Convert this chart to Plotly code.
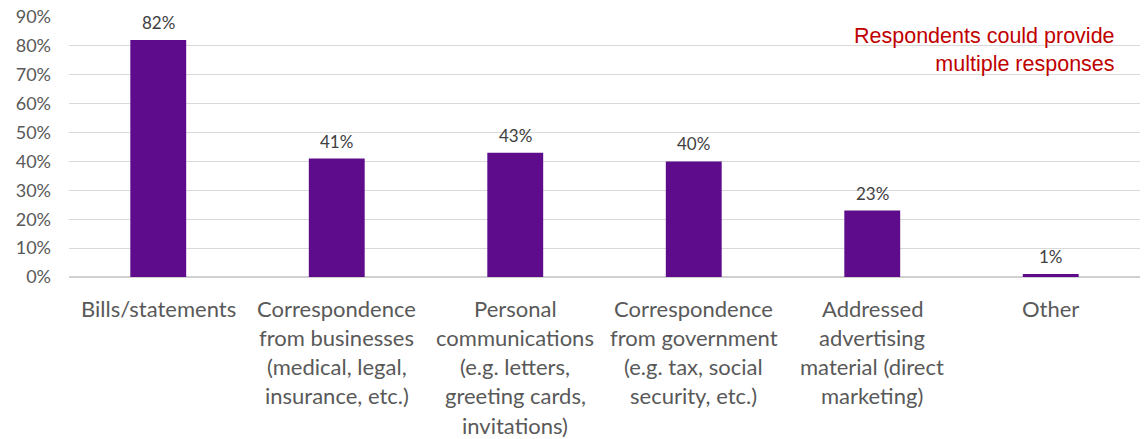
import plotly.graph_objects as go

# Mail types received and share of respondents
categories = [
    "Bills/statements",
    "Correspondence from businesses",
    "Personal communications",
    "Correspondence from government",
    "Addressed advertising material",
    "Other",
]
label_lines = [
    ["Bills/statements"],
    ["Correspondence", "from businesses", "(medical, legal,", "insurance, etc.)"],
    ["Personal", "communications", "(e.g. letters,", "greeting cards,", "invitations)"],
    ["Correspondence", "from government", "(e.g. tax, social", "security, etc.)"],
    ["Addressed", "advertising", "material (direct", "marketing)"],
    ["Other"],
]
values = [82, 41, 43, 40, 23, 1]
y_ticks = [0, 10, 20, 30, 40, 50, 60, 70, 80, 90]
y_tick_text = [f"{t}%" for t in y_ticks]

BAR_COLOR = "#5e0c8b"
TEXT_GREY = "#595959"
LABEL_FONT = "Lato"

fig = go.Figure(
    go.Bar(
        x=categories,
        y=values,
        marker=dict(color=BAR_COLOR, line=dict(width=0)),
        hoverinfo="skip",
    )
)

annotations = []
# value labels above each bar
for cat, v in zip(categories, values):
    annotations.append(dict(
        x=cat, y=v, xref="x", yref="y",
        text=f"{v}%", showarrow=False,
        yanchor="bottom", yshift=5,
        font=dict(family=LABEL_FONT, size=17, color="#404040"),
    ))
# multi-line category labels under the axis
for cat, lines in zip(categories, label_lines):
    for i, line in enumerate(lines):
        annotations.append(dict(
            x=cat, y=0, xref="x", yref="y",
            text=line, showarrow=False,
            yanchor="middle", yshift=-31 - 29.3 * i,
            font=dict(family=LABEL_FONT, size=22, color=TEXT_GREY),
        ))
# note in the top right corner
annotations.append(dict(
    x=1117, y=48, xref="paper", yref="paper",
    text="Respondents could provide<br>multiple responses",
    showarrow=False, xanchor="right", yanchor="middle", align="right",
    font=dict(family="Liberation Sans", size=21.5, color="#c00000"),
))

fig.update_layout(
    width=1145, height=439,
    margin=dict(l=69, r=5, t=15, b=162),
    paper_bgcolor="white", plot_bgcolor="white",
    bargap=0.687,
    showlegend=False,
    annotations=annotations,
    xaxis=dict(
        showticklabels=False, showgrid=False, zeroline=False,
        showline=False, ticks="",
    ),
    yaxis=dict(
        range=[0, 90], tickmode="array", tickvals=y_ticks, ticktext=y_tick_text,
        showgrid=True, gridcolor="#d9d9d9", gridwidth=1,
        zeroline=True, zerolinecolor="#d0d0d0", zerolinewidth=1.5,
        showline=False, ticks="", ticklabelstandoff=17,
        tickfont=dict(family=LABEL_FONT, size=18, color=TEXT_GREY),
    ),
)

# the corner note is placed in pixel terms, convert to paper coordinates
plot_w = 1145 - 69 - 5
plot_h = 439 - 15 - 162
for a in fig.layout.annotations:
    if a.xref == "paper":
        a.x = (a.x - 69) / plot_w
        a.y = (277 - a.y) / plot_h

fig.write_html("out.html")
